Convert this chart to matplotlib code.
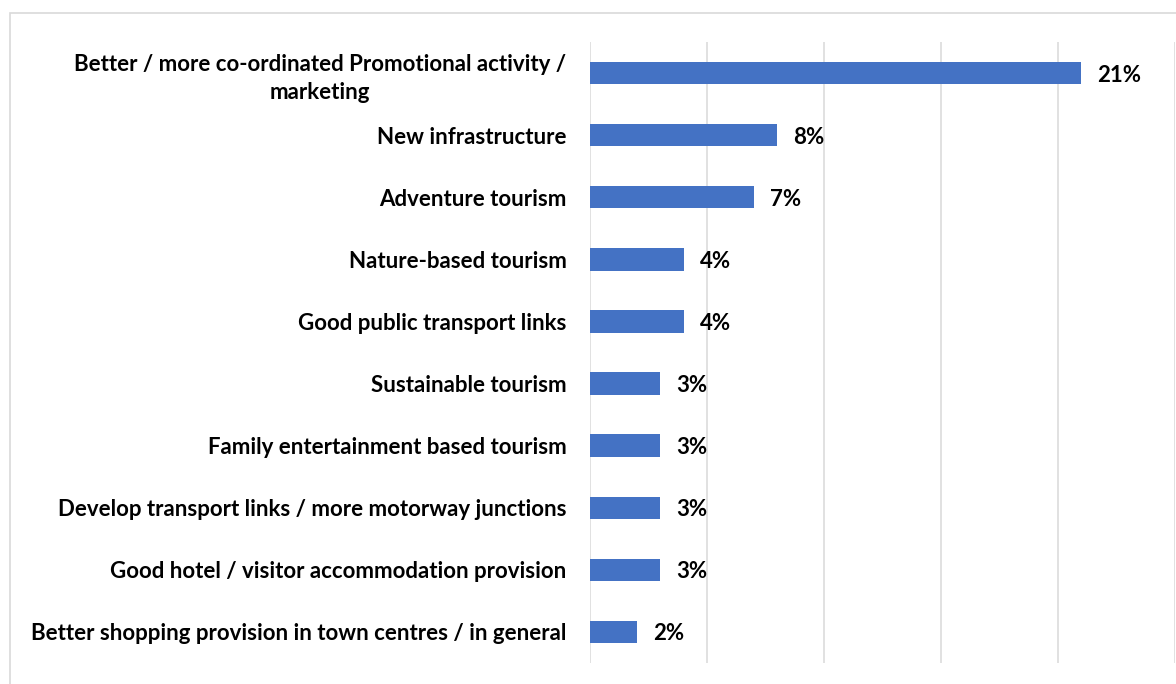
import matplotlib
matplotlib.use("Agg")
import matplotlib.pyplot as plt
from matplotlib.patches import Rectangle

categories = [
    "Better / more co-ordinated Promotional activity /\nmarketing",
    "New infrastructure",
    "Adventure tourism",
    "Nature-based tourism",
    "Good public transport links",
    "Sustainable tourism",
    "Family entertainment based tourism",
    "Develop transport links / more motorway junctions",
    "Good hotel / visitor accommodation provision",
    "Better shopping provision in town centres / in general",
]
values = [21, 8, 7, 4, 4, 3, 3, 3, 3, 2]
value_labels = ["21%", "8%", "7%", "4%", "4%", "3%", "3%", "3%", "3%", "2%"]

W, H = 1176, 684
fig = plt.figure(figsize=(W / 100, H / 100), dpi=100)
fig.patch.set_facecolor("white")

# chart frame (runs off the right and bottom edges)
fig.patches.append(Rectangle((10 / W, -0.2), 1.5, 1 - 13 / H + 0.2,
                             transform=fig.transFigure, fill=False,
                             edgecolor="#d9d9d9", linewidth=1.2))

ax = fig.add_axes([590 / W, 1 - 663 / H, 585 / W, (663 - 42) / H])
FONT = "Lato"
FS = 16
ypos = list(range(len(categories)))
ax.barh(ypos, values, height=0.36, color="#4472C4", zorder=3)
ax.set_xlim(0, 25)
ax.set_ylim(len(categories) - 0.5, -0.5)
ax.set_xticks([0, 5, 10, 15, 20, 25])
ax.xaxis.grid(True, color="#d9d9d9", linewidth=1.1)
ax.tick_params(axis="x", length=0, labelbottom=False)
ax.tick_params(axis="y", length=0, pad=17)
ax.set_yticks(ypos)
ax.set_yticklabels(categories, fontsize=FS, fontweight="bold",
                   family=FONT, color="black", multialignment="center",
                   linespacing=1.4)
for s in ax.spines.values():
    s.set_visible(False)

for y, v, lab in zip(ypos, values, value_labels):
    ax.annotate(lab, (v, y), xytext=(16, -2), textcoords="offset pixels",
                va="center", ha="left", fontsize=FS, fontweight="bold",
                family=FONT, color="black")

fig.savefig("out.png", dpi=100)
